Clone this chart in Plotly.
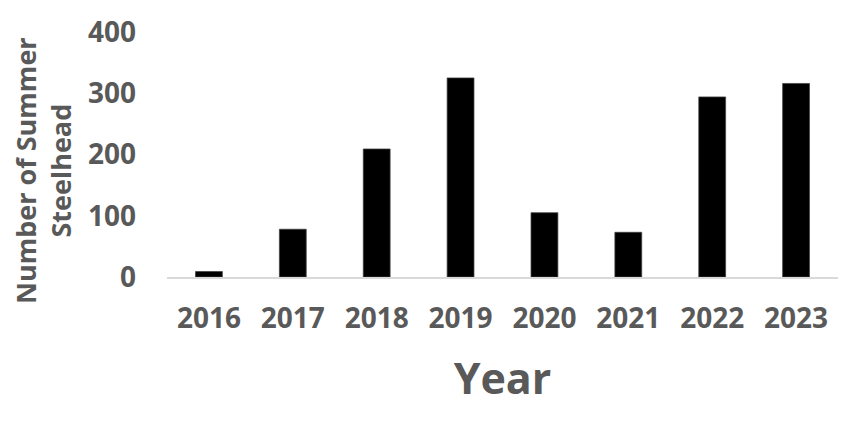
import plotly.graph_objects as go

years = ["2016", "2017", "2018", "2019", "2020", "2021", "2022", "2023"]
counts = [9, 78, 209, 325, 105, 73, 294, 316]
y_ticks = [0, 100, 200, 300, 400]
y_title = "Number of Summer<br>Steelhead"

FONT = "Open Sans, Carlito, Calibri, sans-serif"
GREY = "#595959"

fig = go.Figure(go.Bar(x=years, y=counts, marker=dict(color="black", line=dict(color="#404040", width=0.75))))

fig.update_layout(
    width=856, height=430,
    margin=dict(l=159, r=26, t=24, b=161, autoexpand=False),
    plot_bgcolor="white", paper_bgcolor="white",
    bargap=0.68,
    showlegend=False,
    font=dict(family=FONT, color=GREY),
)
fig.update_xaxes(
    automargin=False,
    showline=True, linecolor="#d9d9d9", linewidth=1.5,
    showgrid=False,
    tickfont=dict(family=FONT, size=28, color=GREY, weight="bold"),
    ticklabelstandoff=16,
    title=dict(text="Year", font=dict(family=FONT, size=43, color=GREY, weight="bold"), standoff=29),
)
fig.update_yaxes(
    automargin=False,
    range=[0, 400], tickvals=y_ticks,
    showline=False, showgrid=False, zeroline=False,
    tickfont=dict(family=FONT, size=28, color=GREY, weight="bold"),
    ticklabelstandoff=30,
)
fig.add_annotation(
    text=y_title, textangle=-90, showarrow=False,
    xref="paper", yref="paper", x=-0.184, y=0.435,
    xanchor="center", yanchor="middle",
    font=dict(family=FONT, size=27, color=GREY, weight="bold"),
)

fig.write_html("out.html")
